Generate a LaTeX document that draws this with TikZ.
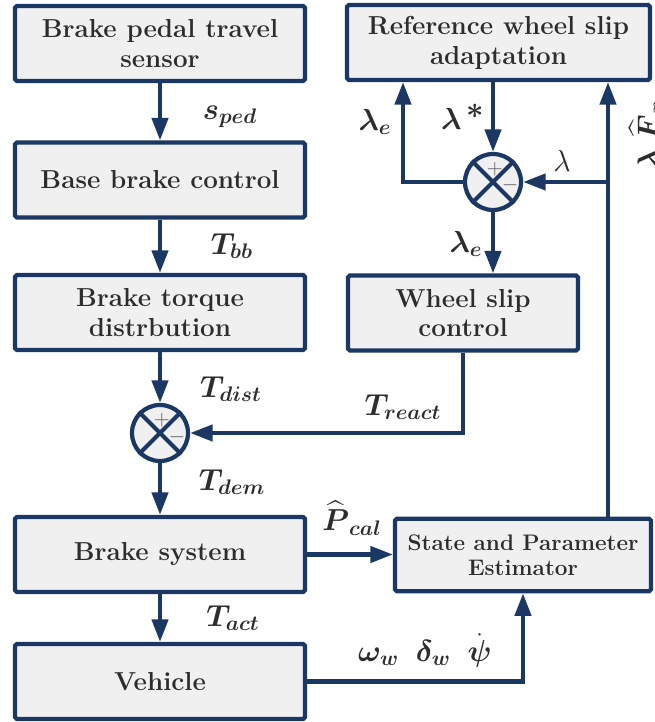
\documentclass[tikz,border=0pt]{standalone}
\usepackage{amsmath}
\usepackage{amssymb}
\usepackage{tikz}
\usetikzlibrary{
    calc,
    arrows.meta
}
\definecolor{navy}{RGB}{26,56,99}
\definecolor{boxfill}{RGB}{240,240,240}
\definecolor{txt}{RGB}{45,45,45}

\begin{document}
\begin{tikzpicture}[x=0.02cm,y=-0.02cm,
    blk/.style={draw=navy,fill=boxfill,line width=2.4pt,rounded corners=1pt,
        minimum width=5.8cm,minimum height=1.5cm,align=center,text=txt,
        font=\fontsize{14.8}{17}\selectfont\bfseries},
    sum/.style={circle,draw=navy,fill=boxfill,line width=2.4pt,minimum size=1.12cm},
    arr/.style={draw=navy,line width=2.4pt,-{Triangle[length=0.45cm,width=0.32cm]}},
    sig/.style={text=txt,font=\fontsize{17}{20}\selectfont,inner sep=0pt},
    sign/.style={text=black!65,font=\fontsize{13}{15}\selectfont,inner sep=0pt}]
\useasboundingbox (0,0) rectangle (654,722);
%\draw [help lines,step=50](0,0) grid (654,722);
% left column
\node [blk] (sensor) at (160,43.5) {Brake pedal travel\\sensor};
\node [blk] (bbc) at (160,180) {Base brake control};
\node [blk] (dist) at (160,312.5) {Brake torque\\distrbution};
\node [sum] (sum1) at (160,433) {};
\node [blk] (bsys) at (160,554.5) {Brake system};
\node [blk] (veh) at (160,681.5) {Vehicle};
% right column
\node [blk,minimum width=6.06cm] (ref) at (498.5,42.5) {Reference wheel slip\\adaptation};
\node [sum] (sum2) at (493,182) {};
\node [blk,minimum width=4.6cm] (wsc) at (463,313) {Wheel slip\\control};
\node [blk,minimum width=5.12cm,minimum height=1.45cm,
       font=\fontsize{12.8}{14.5}\selectfont\bfseries] (est) at (523,555) {State and Parameter\\Estimator};
\coordinate (ltap) at (403,182);
\coordinate (rtap) at (608,182);
% crosses and signs
\draw [navy,line width=2.4pt] (sum1.45) -- (sum1.225) (sum1.135) -- (sum1.315);
\draw [navy,line width=2.4pt] (sum2.45) -- (sum2.225) (sum2.135) -- (sum2.315);
\node [sign] (p1) at ($(sum1)+(2,-13)$) {$+$};
\node [sign] (m1) at ($(sum1)+(17,4)$) {$-$};
\node [sign] (p2) at ($(sum2)+(2,-13)$) {$+$};
\node [sign] (m2) at ($(sum2)+(17,3)$) {$-$};
% signals
\draw [arr] (sensor) -- (bbc);
\draw [arr] (bbc) -- (dist);
\draw [arr] (dist) -- (sum1);
\draw [arr] (sum1) -- (bsys);
\draw [arr] (bsys) -- (veh);
\draw [arr] (wsc.south) |- (sum1.east);
\draw [arr] (bsys.east) -- (bsys.east -| est.west);
\draw [arr] (veh.east) -| (est.south);
\draw [arr] (est.north -| rtap) -- (ref.south -| rtap);
\draw [arr] (rtap) -- (sum2.east);
\draw [arr] (ref.south -| sum2) -- (sum2);
\draw [arr] (sum2.west) -- (ltap) -- (ref.south -| ltap);
\draw [arr] (sum2) -- (wsc.north -| sum2);
% labels
\node [sig] (lsped) at (230,117) {$\boldsymbol{s_{ped}}$};
\node [sig] (lbb) at (232,246) {$\boldsymbol{T_{bb}}$};
\node [sig] (ldist) at (231,389) {$\boldsymbol{T_{dist}}$};
\node [sig] (lreact) at (403,407) {$\boldsymbol{T_{react}}$};
\node [sig] (ldem) at (232,482) {$\boldsymbol{T_{dem}}$};
\node [sig] (lcal) at (352,518) {$\widehat{\boldsymbol{P}}_{\boldsymbol{cal}}$};
\node [sig] (lact) at (233,618) {$\boldsymbol{T_{act}}$};
\node [sig] (lmeas) at (425,650) {$\boldsymbol{\omega_w}\;\;\boldsymbol{\delta_w}\;\;\dot{\boldsymbol{\psi}}$};
\node [sig] (lerr) at (375,122) {$\boldsymbol{\lambda_e}$};
\node [sig] (lref) at (463,117) {$\boldsymbol{\lambda}\,{}^{\textstyle\boldsymbol{*}}$};
\node [sig] (lslip) at (562,161) {$\lambda$};
\node [sig] (lerr2) at (466,244) {$\boldsymbol{\lambda_e}$};
\node [sig,rotate=90] (lest) at (646,135) {$\boldsymbol{\lambda}\;\widehat{\boldsymbol{F}}_{\boldsymbol{x}}$};
\end{tikzpicture}
\end{document}
